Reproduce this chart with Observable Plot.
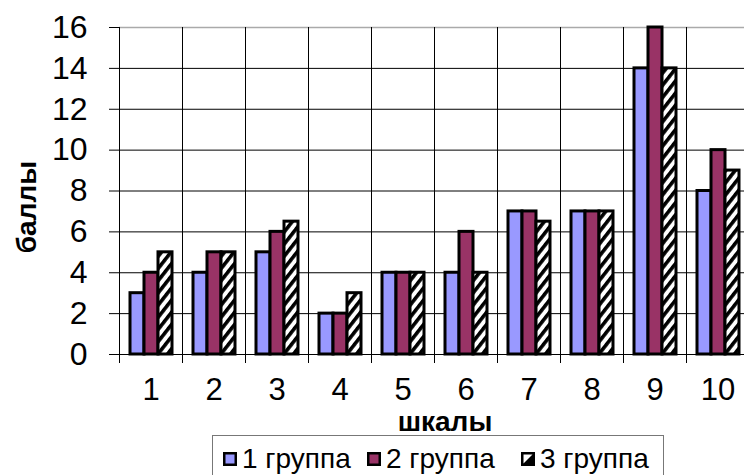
<!DOCTYPE html>
<html>
<head>
<meta charset="utf-8">
<script src="https://cdn.jsdelivr.net/npm/d3@7"></script>
<script src="https://cdn.jsdelivr.net/npm/@observablehq/plot@0.6"></script>
<style>
  html, body { margin: 0; padding: 0; background: #fff; overflow: hidden; }
  body { font-family: "Liberation Sans", Arial, sans-serif; position: relative; width: 744px; height: 475px; }
  #chart svg { display: block; }
  #legend {
    position: absolute; left: 212px; top: 435px; width: 452px; height: 52px;
    box-sizing: border-box; border: 1px solid #777; background: #fff;
  }
  .item { position: absolute; top: 0; height: 46px; display: flex; align-items: center; font-size: 28px; color: #000; white-space: nowrap; }
  .item svg { margin-right: 5px; }
</style>
</head>
<body>
<div id="chart"></div>
<div id="legend"></div>
<script>
// ---- data ----
const categories = ["1", "2", "3", "4", "5", "6", "7", "8", "9", "10"];
const groups = ["1 группа", "2 группа", "3 группа"];
const group1 = [3, 4, 5, 2, 4, 4, 7, 7, 14, 8];
const group2 = [4, 5, 6, 2, 4, 6, 7, 7, 16, 10];
const group3 = [5, 5, 6.5, 3, 4, 4, 6.5, 7, 14, 9];
const yTicks = [0, 2, 4, 6, 8, 10, 12, 14, 16];
const fills = ["#9999FF", "#993366", "url(#hatch)"];
const xTitle = "шкалы";
const yTitle = "баллы";

const series = [group1, group2, group3];
const data = categories.flatMap((c, i) =>
  series.map((s, g) => ({category: c, group: groups[g], value: s[i]}))
);

const font = '"Liberation Sans", Arial, sans-serif';

const chart = Plot.plot({
  width: 744,
  height: 475,
  marginLeft: 115,
  marginRight: -9,
  marginTop: 27,
  marginBottom: 121,
  style: {fontFamily: font, fontSize: "31px", color: "#000", background: "#fff"},
  fx: {domain: categories, padding: 0, label: null},
  x: {domain: groups, paddingInner: 0, paddingOuter: 0.75, axis: null},
  y: {domain: [0, 16], ticks: yTicks, label: null},
  color: {domain: groups, range: fills},
  marks: [
    Plot.ruleY(yTicks.filter(d => d < 16), {stroke: "#000", strokeWidth: 1}),
    Plot.ruleY([16], {stroke: "#aaa", strokeWidth: 1.5}),
    Plot.frame({anchor: "left", stroke: "#000", strokeWidth: 1, insetBottom: -8}),
    Plot.barY(data, {fx: "category", x: "group", y: "value", fill: "group", stroke: "#000", strokeWidth: 3}),
    Plot.axisY({ticks: yTicks, tickSize: 10, tickPadding: 22, fontSize: 32, label: null, stroke: "#000"}),
    Plot.axisFx({anchor: "bottom", tickSize: 0, tickPadding: 23, fontSize: 31, label: null})
  ]
});

const svg = d3.select(chart);
svg.insert("defs", ":first-child").html(
  `<pattern id="hatch" patternUnits="userSpaceOnUse" width="7.5" height="7.5" patternTransform="rotate(38)">
     <rect width="7.5" height="7.5" fill="#fff"/>
     <rect x="0" width="3.6" height="7.5" fill="#000"/>
   </pattern>`
);
svg.append("text")
  .attr("x", 445).attr("y", 431)
  .attr("text-anchor", "middle")
  .attr("font-family", font).attr("font-size", 28).attr("font-weight", "bold")
  .attr("fill", "#000")
  .text(xTitle);
svg.append("text")
  .attr("transform", "translate(36,207) rotate(-90)")
  .attr("text-anchor", "middle")
  .attr("font-family", font).attr("font-size", 28).attr("font-weight", "bold")
  .attr("fill", "#000")
  .text(yTitle);

document.getElementById("chart").appendChild(chart);

// ---- legend ----
const legend = d3.select("#legend");
const lefts = [10, 154, 308];
groups.forEach((g, i) => {
  const item = legend.append("div").attr("class", "item").style("left", lefts[i] + "px");
  const sw = item.append("svg").attr("width", 14).attr("height", 14);
  if (i < 2) {
    sw.append("rect").attr("x", 1.25).attr("y", 1.25).attr("width", 11.5).attr("height", 11.5)
      .attr("fill", fills[i]).attr("stroke", "#000").attr("stroke-width", 2.5);
  } else {
    sw.append("rect").attr("x", 1.25).attr("y", 1.25).attr("width", 11.5).attr("height", 11.5)
      .attr("fill", "#fff").attr("stroke", "#000").attr("stroke-width", 2.5);
    sw.append("polygon").attr("points", "12.75,1.25 12.75,12.75 1.25,12.75").attr("fill", "#000");
  }
  item.append("span").text(g);
});
</script>
</body>
</html>
